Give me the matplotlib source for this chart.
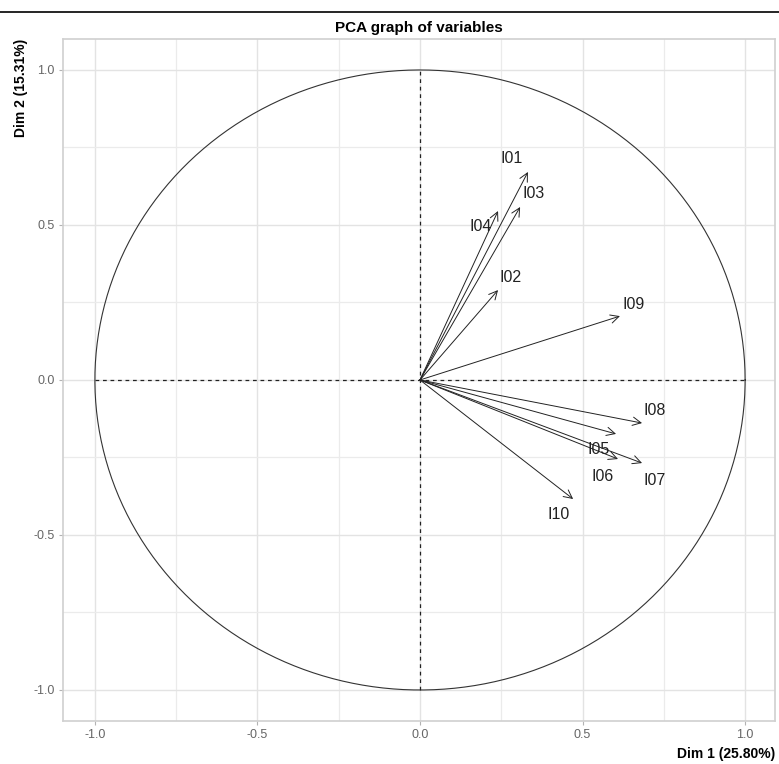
import numpy as np
import matplotlib.pyplot as plt
from matplotlib.lines import Line2D

plt.rcParams['font.family'] = ['Liberation Sans', 'DejaVu Sans']

# Variable coordinates on Dim 1 / Dim 2
variables = ['I01', 'I02', 'I03', 'I04', 'I05', 'I06', 'I07', 'I08', 'I09', 'I10']
dim1 = [0.332, 0.240, 0.308, 0.240, 0.603, 0.609, 0.683, 0.683, 0.615, 0.471]
dim2 = [0.671, 0.290, 0.558, 0.545, -0.174, -0.255, -0.268, -0.139, 0.206, -0.384]

# Label positions (repelled)
label_x = [0.283, 0.280, 0.348, 0.188, 0.548, 0.563, 0.723, 0.723, 0.658, 0.425]
label_y = [0.716, 0.329, 0.600, 0.494, -0.223, -0.310, -0.323, -0.100, 0.242, -0.435]

ticks = [-1.0, -0.5, 0.0, 0.5, 1.0]
minor_ticks = [-0.75, -0.25, 0.25, 0.75]

fig = plt.figure(figsize=(7.79, 7.64), dpi=100)
ax = fig.add_axes([0.0809, 0.0563, 0.914, 0.8927])

ax.set_xlim(-1.098, 1.092)
ax.set_ylim(-1.10, 1.10)

# grid like ggplot theme_light
ax.set_xticks(ticks)
ax.set_yticks(ticks)
ax.set_xticks(minor_ticks, minor=True)
ax.set_yticks(minor_ticks, minor=True)
ax.grid(True, which='major', color='#e3e3e3', linewidth=1.0)
ax.grid(True, which='minor', color='#ebebeb', linewidth=0.9)
ax.set_axisbelow(True)
ax.tick_params(which='minor', length=0)
ax.tick_params(which='major', length=3, color='#b3b3b3', labelsize=9, labelcolor='#666666', pad=3)
ax.set_xticklabels(['-1.0', '-0.5', '0.0', '0.5', '1.0'])
ax.set_yticklabels(['-1.0', '-0.5', '0.0', '0.5', '1.0'])
for s in ax.spines.values():
    s.set_color('#d0d0d0')
    s.set_linewidth(1.2)

# unit circle
theta = np.linspace(0, 2 * np.pi, 400)
ax.plot(np.cos(theta), np.sin(theta), color='#333333', linewidth=0.8)

# dashed axes
ax.plot([-1, 1], [0, 0], color='#222222', linestyle=(0, (3, 3)), linewidth=0.9)
ax.plot([0, 0], [-1, 1], color='#222222', linestyle=(0, (3, 3)), linewidth=0.9)

# arrows
for v, x, y, lx, ly in zip(variables, dim1, dim2, label_x, label_y):
    ax.annotate('', xy=(x, y), xytext=(0, 0),
                arrowprops=dict(arrowstyle='->,head_length=0.6,head_width=0.3',
                                color='#222222', linewidth=0.7,
                                shrinkA=0, shrinkB=0))
    ax.text(lx, ly, v, fontsize=11.5, color='#222222', ha='center', va='center')

ax.set_title('PCA graph of variables', fontsize=11, fontweight='bold', pad=5)
ax.set_xlabel('Dim 1 (25.80%)', fontsize=10, fontweight='bold', loc='right')
ax.set_ylabel('Dim 2 (15.31%)', fontsize=10, fontweight='bold', loc='top')

# top border line of the screenshot
fig.add_artist(Line2D([0, 1], [1 - 12 / 764, 1 - 12 / 764], color='black', linewidth=1.2))

fig.savefig('out.png', dpi=100)
